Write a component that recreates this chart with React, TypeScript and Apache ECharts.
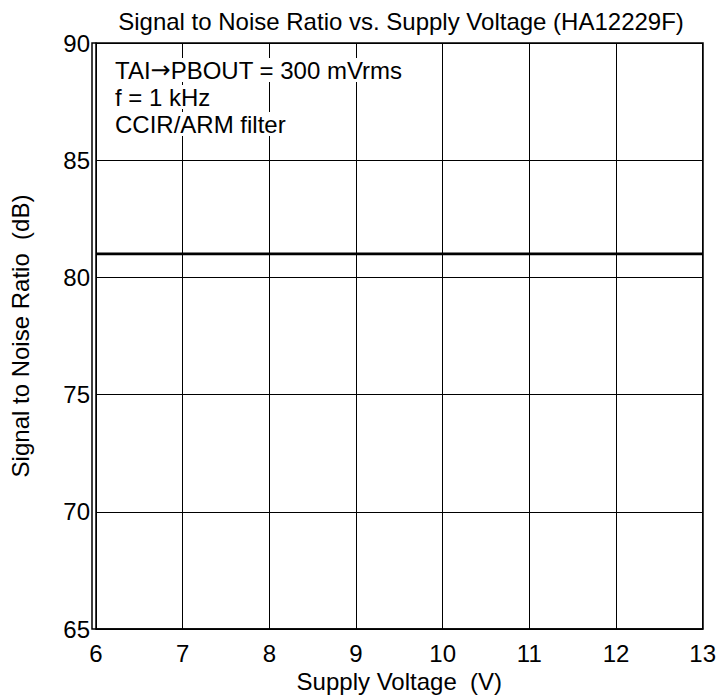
import React, { useEffect, useRef } from "react";
import * as echarts from "echarts";

const supplyVoltage = [6, 7, 8, 9, 10, 11, 12, 13];
const snrValues = [81, 81, 81, 81, 81, 81, 81, 81];
const titleText = "Signal to Noise Ratio vs. Supply Voltage (HA12229F)";
const xName = "Supply Voltage  (V)";
const yName = "Signal to Noise Ratio  (dB)";
const noteLines = ["TAI{a|\u2192}PBOUT = 300 mVrms", "f = 1 kHz", "CCIR/ARM filter"];

const FONT = "'Liberation Sans', Arial, sans-serif";

export default function App() {
  const ref = useRef<HTMLDivElement>(null);
  useEffect(() => {
    if (!ref.current) return;
    const chart = echarts.init(ref.current, null, { renderer: "svg" });
    const fs = 24;
    chart.setOption({
      animation: false,
      backgroundColor: "#ffffff",
      textStyle: { fontFamily: FONT },
      title: {
        text: titleText,
        left: 396,
        textAlign: "center",
        top: 4,
        textStyle: { fontSize: fs, fontWeight: "normal", color: "#000", fontFamily: FONT },
      },
      grid: { left: 92, right: 16, top: 43, bottom: 71, containLabel: false, show: false },
      xAxis: {
        type: "value",
        min: 6,
        max: 13,
        interval: 1,
        name: xName,
        nameLocation: "middle",
        nameGap: 40,
        nameTextStyle: { fontSize: fs, color: "#000", fontFamily: FONT },
        axisLine: { show: true, onZero: false, lineStyle: { color: "#000", width: 1.5 } },
        axisTick: { show: false },
        axisLabel: { fontSize: fs, color: "#000", margin: 12, fontFamily: FONT },
        splitLine: { show: true, lineStyle: { color: "#000", width: 1 } },
      },
      yAxis: {
        type: "value",
        min: 65,
        max: 90,
        interval: 5,
        name: yName,
        nameLocation: "middle",
        nameGap: 64,
        nameTextStyle: { fontSize: fs, color: "#000", fontFamily: FONT },
        axisLine: { show: true, lineStyle: { color: "#000", width: 1.5 } },
        axisTick: { show: false },
        axisLabel: { fontSize: fs, color: "#000", margin: 6, fontFamily: FONT },
        splitLine: { show: true, lineStyle: { color: "#000", width: 1 } },
      },
      series: [
        {
          type: "line",
          data: supplyVoltage.map((x, i) => [x, snrValues[i]]),
          symbol: "none",
          lineStyle: { color: "#000", width: 2.7 },
          z: 5,
        },
      ],
      graphic: [
        {
          type: "rect",
          shape: { x: 92, y: 43, width: 611, height: 586 },
          style: { fill: "none", stroke: "#000", lineWidth: 1.5 },
          z: 10,
          silent: true,
        },
        ...noteLines.map((t, i) => ({
          type: "text",
          left: 115,
          top: 58 + i * 27,
          z: 20,
          style: {
            text: t,
            fontSize: fs,
            fontFamily: FONT,
            fill: "#000",
            backgroundColor: "#fff",
            padding: [0, 2, 0, 0],
            rich: {
              a: { fontFamily: "'DejaVu Sans'", fontSize: 24, fill: "#000" },
            },
          },
        })),
      ],
    });
    return () => chart.dispose();
  }, []);
  return (
    <div
      ref={ref}
      style={{ position: "fixed", left: 0, top: 0, width: 719, height: 700 }}
    />
  );
}
